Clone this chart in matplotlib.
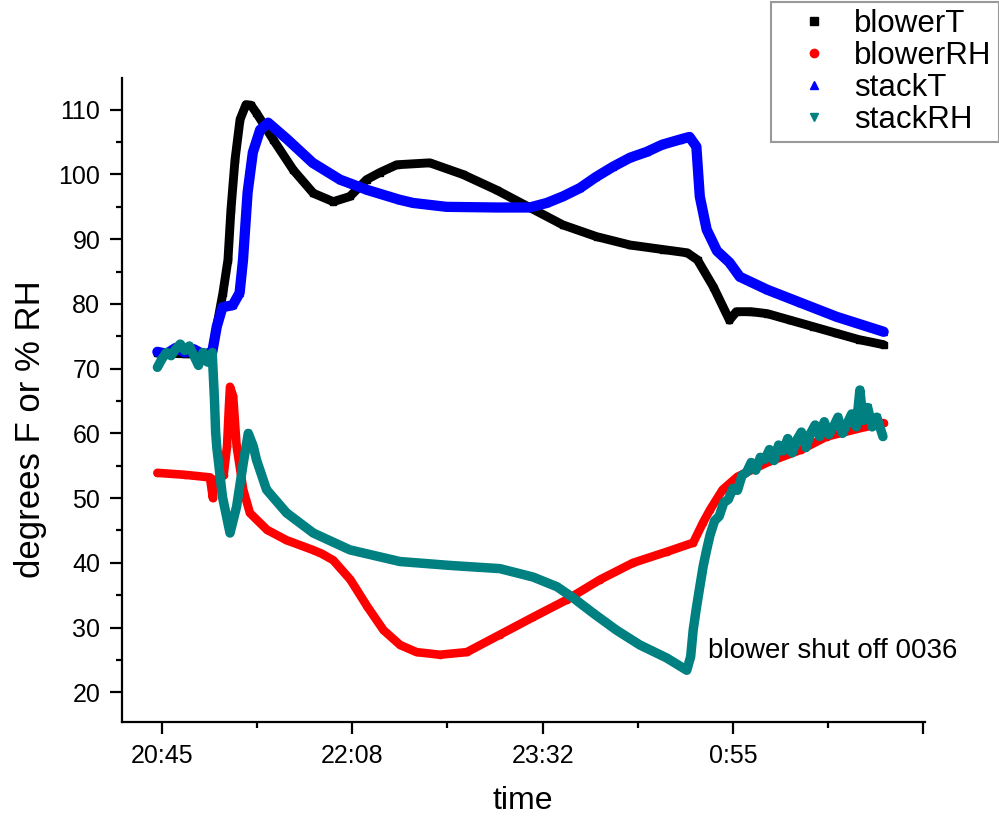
import matplotlib
matplotlib.use("Agg")
import matplotlib.pyplot as plt
from matplotlib.lines import Line2D
from matplotlib.ticker import MultipleLocator, FixedLocator

plt.rcParams['font.family'] = ['Liberation Sans', 'DejaVu Sans']

# ---- data (minutes after 20:45) ----
blowerT_t = [-2, 10, 21, 22.5, 24.5, 26.7, 28.9, 30.2, 32, 34.2,
             36.8, 39, 41.4, 48.7, 57.5, 66.3, 75, 82.3, 89.6, 95.4,
             102.8, 117.3, 131.8, 146.5, 161, 175.6, 190.3, 205, 219.5, 230,
             234.5, 241.5, 248.5, 251.5, 258, 265, 275, 285, 295, 305,
             316]
blowerT = [72.4, 72.3, 72.2, 73.5, 77.5, 81.7, 86.8, 94.5, 102.3, 108.5,
           110.8, 110.7, 109.5, 105.4, 100.7, 97.1, 95.8, 96.6, 99.2, 100.3,
           101.5, 101.8, 100.0, 97.6, 94.9, 92.2, 90.4, 89.1, 88.4, 87.9,
           86.8, 82.6, 77.5, 78.8, 78.8, 78.5, 77.5, 76.5, 75.5, 74.5,
           73.7]

blowerRH_t = [-2, 10, 21, 22.3, 23, 25, 27, 28.5, 29.3, 29.8,
              31.2, 32.7, 35.6, 38.5, 46, 54.5, 66, 70, 75, 82.5,
              90, 97, 104.3, 111.5, 121.7, 133.5, 148, 162.5, 177.3, 191.8,
              206.3, 221, 232.6, 236.9, 240, 245.5, 252, 265, 280, 291,
              308, 316]
blowerRH = [53.9, 53.6, 53.2, 50.0, 52.8, 53.0, 53.5, 58.0, 64.0, 67.2,
            65.7, 58.0, 51.3, 47.7, 45.1, 43.5, 42.0, 41.4, 40.4, 37.4,
            33.2, 29.6, 27.3, 26.2, 25.8, 26.2, 28.9, 31.6, 34.3, 37.4,
            40.0, 41.7, 43.1, 46.2, 48.2, 51.3, 53.3, 55.5, 57.5, 59.5,
            61.0, 61.6]

stackT_t = [-2, 2, 6, 10, 14, 18, 22, 24, 26.5, 31,
            34, 35.5, 37.5, 39.8, 43, 46.5, 55, 66, 78, 90,
            104, 110, 124.6, 146.5, 161, 168.5, 175.5, 183, 190, 197.5,
            205, 212.3, 219, 226.8, 231, 234, 235.5, 238.5, 243, 248.5,
            253, 265, 279.5, 295.5, 316]
stackT = [72.6, 72.3, 73.2, 72.5, 73.0, 72.2, 72.5, 76.5, 79.5, 79.8,
          81.7, 86.8, 97.2, 103.4, 106.9, 108, 105.4, 101.8, 99.2, 97.6,
          96.1, 95.6, 95.0, 94.9, 94.9, 95.6, 96.6, 97.9, 99.6, 101.2,
          102.6, 103.5, 104.6, 105.4, 105.8, 104.3, 96.6, 91.5, 88.2, 86.4,
          84.2, 82.2, 80.2, 78, 75.7]

stackRH_t = [-2, 0, 2, 4, 6, 8, 10, 12, 14, 16,
             18, 20, 22, 23, 23.5, 24, 26.5, 29.8, 32.7, 35.6,
             37.8, 40, 41.4, 45.8, 54.6, 66.3, 82.3, 104.2, 126, 148,
             162.5, 173, 180, 188.9, 199, 209.3, 221, 229.8, 231.5, 232.6,
             234, 235.5, 237, 238.5, 240, 242, 244, 246, 248, 250,
             252, 254, 256, 258, 260, 262, 264, 266, 268, 270,
             272, 274, 276, 278, 280, 282, 284, 286, 288, 290,
             292, 294, 296, 298, 300, 302, 304, 305.6, 307, 309,
             311, 313, 315.7]
stackRH = [70.2, 71.5, 72.5, 72.0, 73.0, 73.8, 72.8, 73.5, 72.0, 70.5,
           72.5, 71.0, 72.5, 65.2, 60.2, 57.9, 50.2, 44.6, 48.7, 55.4,
           60.0, 58.0, 55.9, 51.3, 47.7, 44.6, 42.0, 40.2, 39.6, 39.1,
           37.8, 36.3, 34.6, 32.2, 29.6, 27.3, 25.3, 23.4, 25.5, 29.6,
           33.0, 36.3, 39.5, 42.0, 44.3, 46.5, 47.2, 49.3, 49.8, 51.5,
           51.2, 53.5, 54.0, 55.5, 54.3, 56.3, 56.0, 57.5, 55.8, 58.2,
           57.3, 59.2, 57.0, 59.0, 60.2, 57.8, 60.0, 61.3, 59.5, 61.8,
           59.8, 61.0, 62.5, 60.0, 61.5, 63.0, 61.0, 66.7, 62.0, 64.0,
           61.0, 62.5, 59.5]

series_names = ["blowerT", "blowerRH", "stackT", "stackRH"]
series_colors = ["#000000", "#ff0000", "#0000ff", "#008080"]
series_markers = ["s", "o", "^", "v"]

xtick_pos = [0, 83.33, 166.67, 250, 333.33]
xtick_labels = ["20:45", "22:08", "23:32", "0:55", ""]

annotation = "blower shut off 0036"

# ---- figure ----
fig = plt.figure(figsize=(9.99, 8.19), dpi=100)
ax = fig.add_axes([0.1221, 0.1184, 0.8038, 0.7863])

data = [(blowerT_t, blowerT), (blowerRH_t, blowerRH),
        (stackT_t, stackT), (stackRH_t, stackRH)]
lws = [6.4, 6.2, 7.4, 6.8]
for (t, v), c, m, lw in zip(data, series_colors, series_markers, lws):
    ax.plot(t, v, color=c, lw=lw, marker=m, ms=4.5, mec=c, mfc=c,
            solid_joinstyle='round', solid_capstyle='round')

ax.set_xlim(-17.5, 334.1)
ax.set_ylim(15.4, 114.9)

ax.xaxis.set_major_locator(FixedLocator(xtick_pos))
ax.set_xticklabels(xtick_labels)
ax.xaxis.set_minor_locator(FixedLocator([41.67, 125, 208.33, 291.67]))
ax.yaxis.set_major_locator(MultipleLocator(10))
ax.yaxis.set_minor_locator(MultipleLocator(5))

for s in ['top', 'right']:
    ax.spines[s].set_visible(False)
for s in ['left', 'bottom']:
    ax.spines[s].set_linewidth(1.6)

ax.tick_params(which='major', direction='out', length=8.6, width=1.6,
               labelsize=18, pad=7)
ax.tick_params(which='minor', direction='out', length=4.5, width=1.6)

ax.set_xlabel("time", fontsize=23)
ax.set_ylabel("degrees F or % RH", fontsize=25)
ax.xaxis.set_label_coords(0.4994, -0.10)
ax.yaxis.set_label_coords(-0.093, 0.455)

ax.text(239, 26.4, annotation, fontsize=20, ha='left', va='center')

handles = [Line2D([], [], ls='none', marker=m, color=c, ms=6)
           for m, c in zip(series_markers, series_colors)]
leg = fig.legend(handles, series_names, loc='upper right',
                 bbox_to_anchor=(0.9995, 0.997), fontsize=22.5,
                 frameon=True, fancybox=False, edgecolor='#808080',
                 handlelength=2.3, handletextpad=0.15, labelspacing=0.06,
                 borderpad=0.22, borderaxespad=0.0)
leg.get_frame().set_linewidth(1.5)

fig.savefig("out.png", dpi=100)
